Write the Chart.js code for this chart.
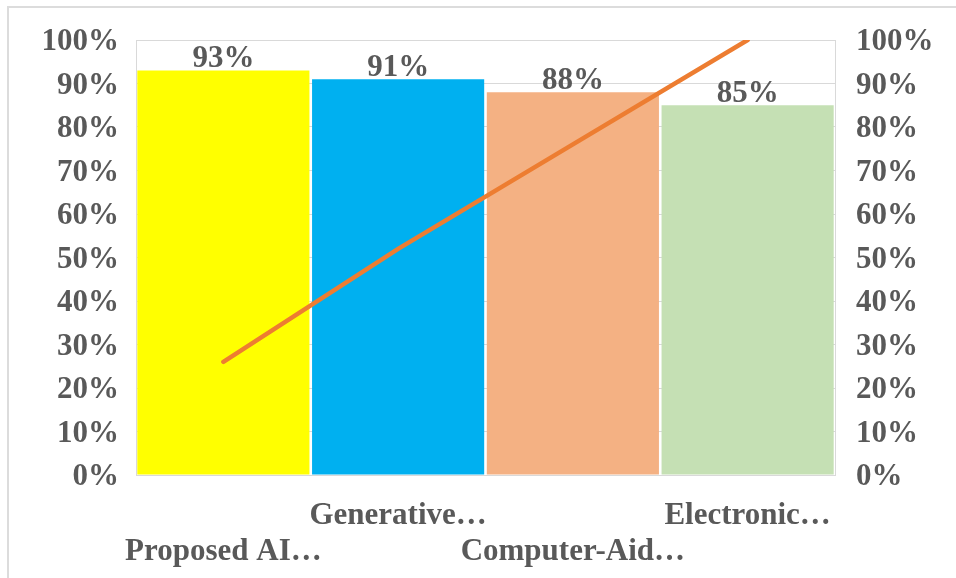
<!DOCTYPE html>
<html>
<head>
<meta charset="utf-8">
<script src="https://cdn.jsdelivr.net/npm/chart.js@4/dist/chart.umd.min.js"></script>
<style>
  html, body { margin: 0; padding: 0; background: #fff; }
  .wrap { position: relative; width: 956px; height: 578px; }
  .frame { position: absolute; left: 7px; top: 6px; right: 0; bottom: 0;
           border-top: 2px solid #dcdcdc; border-left: 2px solid #dcdcdc; }
  canvas { position: absolute; left: 0; top: 0; }
</style>
</head>
<body>
<div class="wrap">
  <div class="frame"></div>
  <canvas id="myChart" width="956" height="578"></canvas>
</div>
<script>
// categories as they appear (truncated) under the bars
const categories = ["Proposed AI\u2026", "Generative\u2026", "Computer-Aid\u2026", "Electronic\u2026"];
// accuracy per method (%)
const accuracy = [93, 91, 88, 85];
// cumulative share (%) – the orange line
const cumulative = [26, 52, 76, 100];
const barColors = ["#FFFF00", "#00B0F0", "#F4B183", "#C5E0B4"];
const yTicks = [0, 10, 20, 30, 40, 50, 60, 70, 80, 90, 100];

const textColor = "#595959";
const font = { family: "'Liberation Serif', 'Times New Roman', serif", size: 31, weight: "bold", lineHeight: 1.16 };

// stagger the category labels over two rows, like the original
const staggered = categories.map((c, i) => i % 2 === 0 ? ["", c] : [c, ""]);

const valueLabels = {
    id: "valueLabels",
    afterDatasetsDraw(chart) {
        const ctx = chart.ctx;
        const meta = chart.getDatasetMeta(0);
        ctx.save();
        ctx.font = "bold 31px 'Liberation Serif', 'Times New Roman', serif";
        ctx.fillStyle = "#595959";
        ctx.textAlign = "center";
        ctx.textBaseline = "alphabetic";
        meta.data.forEach((bar, i) => {
            ctx.fillText(accuracy[i] + "%", bar.x, bar.y - 3);
        });
        ctx.restore();
    }
};

const ctx = document.getElementById("myChart");
const myChart = new Chart(ctx, {
    type: "bar",
    data: {
        labels: staggered,
        datasets: [
            {
                type: "bar",
                label: "Accuracy",
                data: accuracy,
                backgroundColor: barColors,
                borderWidth: 0,
                barPercentage: 0.985,
                categoryPercentage: 1,
                yAxisID: "y",
                order: 1
            },
            {
                type: "line",
                label: "Cumulative",
                data: cumulative,
                borderColor: "#ED7D31",
                borderWidth: 4.5,
                borderCapStyle: "round",
                pointRadius: 0,
                tension: 0,
                yAxisID: "y2",
                order: 0
            }
        ]
    },
    options: {
        responsive: false,
        animation: false,
        layout: { padding: { top: 40, left: 0, right: 0, bottom: 0 } },
        plugins: {
            legend: { display: false },
            tooltip: { enabled: false }
        },
        scales: {
            x: {
                grid: { display: false },
                border: { display: true, color: "#d9d9d9", width: 1 },
                ticks: { color: textColor, font: font, padding: 15, maxRotation: 0, autoSkip: false },
                afterFit(scale) { scale.height = 103; }
            },
            y: {
                position: "left",
                min: 0,
                max: 100,
                afterBuildTicks(scale) { scale.ticks = yTicks.map(v => ({ value: v })); },
                grid: { color: "#d9d9d9", lineWidth: 1, drawTicks: false },
                border: { display: true, color: "#d9d9d9", width: 1 },
                ticks: { color: textColor, font: font, padding: 17, labelOffset: 2, callback: v => v + "%" },
                afterFit(scale) { scale.width = 136; }
            },
            y2: {
                position: "right",
                min: 0,
                max: 100,
                afterBuildTicks(scale) { scale.ticks = yTicks.map(v => ({ value: v })); },
                grid: { display: false, drawTicks: false },
                border: { display: true, color: "#d9d9d9", width: 1 },
                ticks: { color: textColor, font: font, padding: 21, labelOffset: 2, callback: v => v + "%" },
                afterFit(scale) { scale.width = 121; }
            }
        }
    },
    plugins: [valueLabels]
});
</script>
</body>
</html>
